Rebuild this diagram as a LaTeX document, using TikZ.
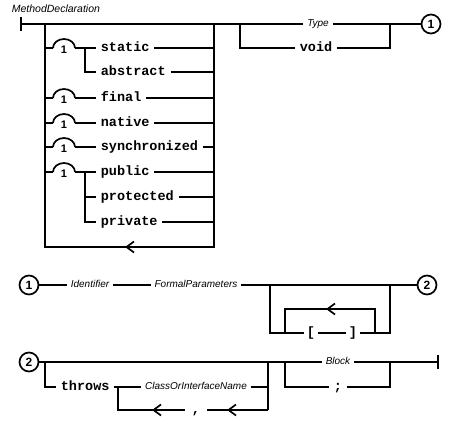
\documentclass[tikz,border=0pt]{standalone}
\usepackage{fontspec}
\setmainfont{Liberation Sans}
\setmonofont{Liberation Mono}
\begin{document}
\begin{tikzpicture}[x=1pt,y=1pt,
  line width=1.7pt,
  every node/.style={inner sep=0pt},
  term/.style={font=\ttfamily\bfseries\fontsize{13.5}{14}\selectfont, inner xsep=4pt, inner ysep=0pt, text height=6pt, text depth=0pt, anchor=west},
  nterm/.style={font=\itshape\fontsize{10}{11}\selectfont, inner xsep=3pt, text height=5pt, text depth=0pt},
  titlelab/.style={font=\itshape\fontsize{10.5}{11}\selectfont, anchor=west},
  circnum/.style={circle, draw, line width=1.7pt, minimum size=19pt, font=\bfseries\fontsize{12}{12}\selectfont},
  onearch/.pic={\draw (-11,0) arc[start angle=180,end angle=0,x radius=11,y radius=9];
                \node[font=\bfseries\fontsize{11}{11}\selectfont] at (0,-1.5) {1};},
  larrow/.pic={\draw (4,5.5) -- (-3.5,0) -- (4,-5.5);}
  ]
\useasboundingbox (0,0) rectangle (450,-421);

% ---------- row 1 ----------
\node[titlelab] (title) at (11,-9) {MethodDeclaration};
\coordinate (start) at (21,-24);
\coordinate (lt) at (45,-24);
\coordinate (rt) at (214,-24);
\coordinate (lb) at (45,-247);
\coordinate (rb) at (214,-247);
\coordinate (tl) at (240,-24);
\coordinate (tr) at (390,-24);
\coordinate (loopar) at (130,-247);

\node[nterm] (type) at (318,-24) {Type};
\node[term, anchor=center] (void) at (316,-48) {void};
\node[circnum] (c1) at (431,-24) {1};

\draw ([yshift=7pt]start) -- ([yshift=-7pt]start);
\draw (start) -- (type.west);
\draw (type.east) -- (c1.west);
\draw (tl) |- (void.west);
\draw (void.east) -| (tr);
\draw (lt) -- (lb) -- (rb) -- (rt);
\pic at (loopar) {larrow};

\node[term] (static) at (96,-48) {static};
\node[term] (abstract) at (96,-72) {abstract};
\node[term] (final) at (96,-98) {final};
\node[term] (native) at (96,-123) {native};
\node[term] (synch) at (96,-147) {synchronized};
\node[term] (public) at (96,-172) {public};
\node[term] (protected) at (96,-197) {protected};
\node[term] (private) at (96,-222) {private};

\foreach \y in {-48,-98,-123,-147,-172} {
  \draw (45,\y) -- (53,\y);
  \pic at (64,\y) {onearch};
  \draw (75,\y) -- (96,\y);
}
\draw (85,-48) |- (abstract.west);
\draw (85,-172) |- (protected.west);
\draw (85,-172) |- (private.west);
\foreach \n in {static,abstract,final,native,synch,public,protected,private} {
  \draw (\n.east) -- (\n.east -| rt);
}

% ---------- row 2 ----------
\node[circnum] (c1b) at (29,-285) {1};
\node[nterm] (ident) at (90,-285) {Identifier};
\node[nterm] (fp) at (196,-285) {FormalParameters};
\node[circnum] (c2) at (427,-285) {2};
\coordinate (ol) at (270,-285);
\coordinate (or) at (390,-285);
\coordinate (il) at (285,-333);
\coordinate (ir) at (375,-333);
\coordinate (itop) at (375,-309);
\coordinate (dimar) at (331,-309);
\node[term, anchor=center, inner xsep=2pt] (lbr) at (311,-333) {[};
\node[term, anchor=center, inner xsep=2pt] (rbr) at (353,-333) {]};

\draw (c1b) -- (ident);
\draw (ident) -- (fp);
\draw (fp) -- (c2);
\draw (ol) |- (lbr.west);
\draw (lbr.east) -- (rbr.west);
\draw (rbr.east) -| (or);
\draw (il) |- (itop) -- (ir);
\pic at (dimar) {larrow};

% ---------- row 3 ----------
\node[circnum] (c2b) at (29,-362) {2};
\coordinate (thl) at (45,-362);
\coordinate (thr) at (268,-362);
\coordinate (bl) at (285,-362);
\coordinate (br) at (390,-362);
\coordinate (fin) at (438,-362);
\coordinate (lpl) at (118,-387);
\coordinate (ar2) at (157,-410);
\coordinate (ar3) at (232,-410);
\node[nterm] (block) at (338,-362) {Block};
\node[term, anchor=center] (semi) at (338,-387) {;};
\node[term] (throws) at (56,-387) {throws};
\node[nterm] (cin) at (196,-387) {ClassOrInterfaceName};
\node[term, anchor=center, inner xsep=6pt] (comma) at (196,-410) {,};

\draw (c2b) -- (block);
\draw (block) -- (fin);
\draw ([yshift=7pt]fin) -- ([yshift=-7pt]fin);
\draw (thl) |- (throws.west);
\draw (throws.east) -- (cin.west);
\draw (cin.east) -- (cin.east -| thr);
\draw (thr) -- (thr |- comma);
\draw (lpl) |- (comma.west);
\draw (comma.east) -- (comma.east -| thr);
\pic at (ar2) {larrow};
\pic at (ar3) {larrow};
\draw (bl) |- (semi.west);
\draw (semi.east) -| (br);
\end{tikzpicture}
\end{document}
